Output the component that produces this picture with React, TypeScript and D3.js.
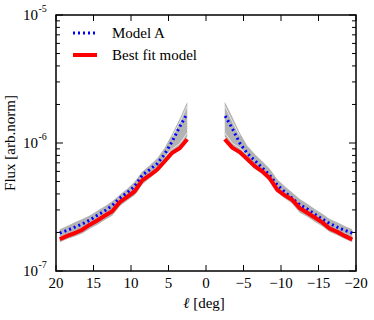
import React from 'react'
import * as d3 from 'd3'

// galactic longitude samples (deg), positive side and negative side
const lPos = [19.5, 18.5, 17.5, 16.5, 15.5, 14.5, 13.5, 12.5, 11.5, 10.5, 9.5, 8.5, 7.5, 6.5, 5.5, 4.5, 3.5, 2.5]
const lNeg = [-19.5, -18.5, -17.5, -16.5, -15.5, -14.5, -13.5, -12.5, -11.5, -10.5, -9.5, -8.5, -7.5, -6.5, -5.5, -4.5, -3.5, -2.5]

const bestPos = [1.77e-7, 1.88e-7, 1.98e-7, 2.1e-7, 2.3e-7, 2.48e-7, 2.7e-7, 2.93e-7, 3.45e-7, 3.8e-7, 4.2e-7, 5.1e-7, 5.6e-7, 6.2e-7, 7.2e-7, 8.4e-7, 9.1e-7, 1.07e-6]
const bestNeg = [1.76e-7, 1.88e-7, 2.02e-7, 2.15e-7, 2.4e-7, 2.62e-7, 2.85e-7, 3.1e-7, 3.6e-7, 3.9e-7, 4.3e-7, 5.3e-7, 6.0e-7, 6.6e-7, 7.5e-7, 8.5e-7, 9.2e-7, 1.07e-6]

const modelAPos = [1.98e-7, 2.08e-7, 2.2e-7, 2.33e-7, 2.5e-7, 2.72e-7, 2.95e-7, 3.25e-7, 3.7e-7, 4.1e-7, 4.6e-7, 5.6e-7, 6.2e-7, 6.9e-7, 8.2e-7, 1.03e-6, 1.34e-6, 1.7e-6]
const modelANeg = [1.98e-7, 2.08e-7, 2.2e-7, 2.35e-7, 2.55e-7, 2.78e-7, 3.05e-7, 3.3e-7, 3.7e-7, 4.15e-7, 4.7e-7, 5.6e-7, 6.4e-7, 7.3e-7, 8.3e-7, 1.0e-6, 1.3e-6, 1.65e-6]

// spread of the sample models (grey band)
const bandHiPos = [2.12e-7, 2.25e-7, 2.4e-7, 2.55e-7, 2.72e-7, 2.95e-7, 3.2e-7, 3.5e-7, 3.95e-7, 4.4e-7, 5.0e-7, 6.0e-7, 6.7e-7, 7.6e-7, 9.2e-7, 1.18e-6, 1.55e-6, 2.1e-6]
const bandLoPos = [1.68e-7, 1.78e-7, 1.86e-7, 1.96e-7, 2.14e-7, 2.3e-7, 2.5e-7, 2.7e-7, 3.2e-7, 3.55e-7, 3.9e-7, 4.75e-7, 5.3e-7, 5.9e-7, 6.9e-7, 8.1e-7, 9.3e-7, 1.12e-6]
const bandHiNeg = [2.12e-7, 2.25e-7, 2.4e-7, 2.55e-7, 2.8e-7, 3.05e-7, 3.35e-7, 3.65e-7, 4.1e-7, 4.6e-7, 5.2e-7, 6.3e-7, 7.2e-7, 8.2e-7, 9.5e-7, 1.2e-6, 1.6e-6, 2.1e-6]
const bandLoNeg = [1.68e-7, 1.78e-7, 1.9e-7, 2.02e-7, 2.24e-7, 2.42e-7, 2.65e-7, 2.85e-7, 3.35e-7, 3.7e-7, 4.1e-7, 5.0e-7, 5.7e-7, 6.3e-7, 7.1e-7, 8.1e-7, 8.9e-7, 1.12e-6]

// thin gaps between individual sample curves near the centre
const gapL = [2.5, 3.5, 4.5, 5.5]
const gapPos = [1.2e-6, 9.9e-7, 9.0e-7, 7.8e-7]
const gapNeg = [1.2e-6, 1.0e-6, 9.1e-7, 8.1e-7]
const gapHiPos = [1.95e-6, 1.45e-6, 1.12e-6]
const gapHiNeg = [1.95e-6, 1.48e-6, 1.14e-6]

const xTicks = [20, 15, 10, 5, 0, -5, -10, -15, -20]
const yMajor = [1e-7, 1e-6, 1e-5]
const yExp = ['-7', '-6', '-5']

const W = 374
const H = 320
const FONT = '"Liberation Serif", "DejaVu Serif", serif'

export default function App() {
  const x = d3.scaleLinear().domain([20, -20]).range([56, 356])
  const y = d3.scaleLog().domain([1e-7, 1e-5]).range([271, 15])
  const [x0, x1] = x.range()
  const [yb, yt] = y.range()

  const line = (ls: number[], vs: number[], sign = 1) =>
    d3.line<number>().x((_, i) => x(sign * ls[i])).y(d => y(d))(vs) || ''
  const band = (ls: number[], lo: number[], hi: number[]) =>
    d3.area<number>().x((_, i) => x(ls[i])).y0(d => y(d)).y1((_, i) => y(hi[i]))(lo) || ''

  // minor log ticks 2..9 per decade
  const minor: number[] = []
  for (const m of [1e-7, 1e-6]) for (let k = 2; k < 10; k++) minor.push(k * m)

  return (
    <div style={{ position: 'fixed', left: 0, top: 0 }}>
      <svg width={W} height={H} style={{ display: 'block', background: '#fff' }}>
        {/* grey band */}
        <path d={band(lPos, bandLoPos, bandHiPos)} fill="#b3b3b3" />
        <path d={band(lNeg, bandLoNeg, bandHiNeg)} fill="#b3b3b3" />
        <path d={line(gapL, gapPos)} fill="none" stroke="#e6e6e6" strokeWidth={1} />
        <path d={line(gapL, gapNeg, -1)} fill="none" stroke="#e6e6e6" strokeWidth={1} />
        <path d={line(gapL, gapHiPos)} fill="none" stroke="#e6e6e6" strokeWidth={1} />
        <path d={line(gapL, gapHiNeg, -1)} fill="none" stroke="#e6e6e6" strokeWidth={1} />

        {/* model A */}
        <path d={line(lPos, modelAPos)} fill="none" stroke="#0000ff" strokeWidth={3} strokeDasharray="2,3" />
        <path d={line(lNeg, modelANeg)} fill="none" stroke="#0000ff" strokeWidth={3} strokeDasharray="2,3" />

        {/* best fit */}
        <path d={line(lPos, bestPos)} fill="none" stroke="#ff0000" strokeWidth={4} />
        <path d={line(lNeg, bestNeg)} fill="none" stroke="#ff0000" strokeWidth={4} />

        {/* frame */}
        <rect x={x0} y={yt} width={x1 - x0} height={yb - yt} fill="none" stroke="#000" strokeWidth={1.5} />

        {/* x ticks */}
        {xTicks.map(t => (
          <g key={'x' + t}>
            <line x1={x(t)} x2={x(t)} y1={yb} y2={yb - 6} stroke="#000" />
            <line x1={x(t)} x2={x(t)} y1={yt} y2={yt + 6} stroke="#000" />
            <text x={x(t)} y={288} textAnchor="middle" fontFamily={FONT} fontSize={15}>
              {t < 0 ? '\u2212' + Math.abs(t) : t}
            </text>
          </g>
        ))}

        {/* y ticks */}
        {yMajor.map((t, i) => (
          <g key={'y' + t}>
            <line x1={x0} x2={x0 + 7} y1={y(t)} y2={y(t)} stroke="#000" />
            <line x1={x1} x2={x1 - 7} y1={y(t)} y2={y(t)} stroke="#000" />
            <text x={38} y={y(t) + 5} textAnchor="end" fontFamily={FONT} fontSize={15}>10</text>
            <text x={38.5} y={y(t) - 3} fontFamily={FONT} fontSize={10}>{yExp[i]}</text>
          </g>
        ))}
        {minor.map(t => (
          <g key={'m' + t}>
            <line x1={x0} x2={x0 + 4} y1={y(t)} y2={y(t)} stroke="#000" />
            <line x1={x1} x2={x1 - 4} y1={y(t)} y2={y(t)} stroke="#000" />
          </g>
        ))}

        {/* axis labels */}
        <text x={204} y={308} textAnchor="middle" fontFamily={FONT} fontSize={15}>
          <tspan fontStyle="italic">ℓ</tspan> [deg]
        </text>
        <text transform={`translate(15,${(yt + yb) / 2}) rotate(-90)`} textAnchor="middle" fontFamily={FONT} fontSize={15}>
          Flux [arb.norm]
        </text>

        {/* legend */}
        <line x1={73} x2={97} y1={33} y2={33} stroke="#0000ff" strokeWidth={3} strokeDasharray="2,3" />
        <text x={112} y={38} fontFamily={FONT} fontSize={15}>Model A</text>
        <line x1={73} x2={97} y1={55} y2={55} stroke="#ff0000" strokeWidth={4} />
        <text x={112} y={60} fontFamily={FONT} fontSize={15}>Best fit model</text>
      </svg>
    </div>
  )
}
